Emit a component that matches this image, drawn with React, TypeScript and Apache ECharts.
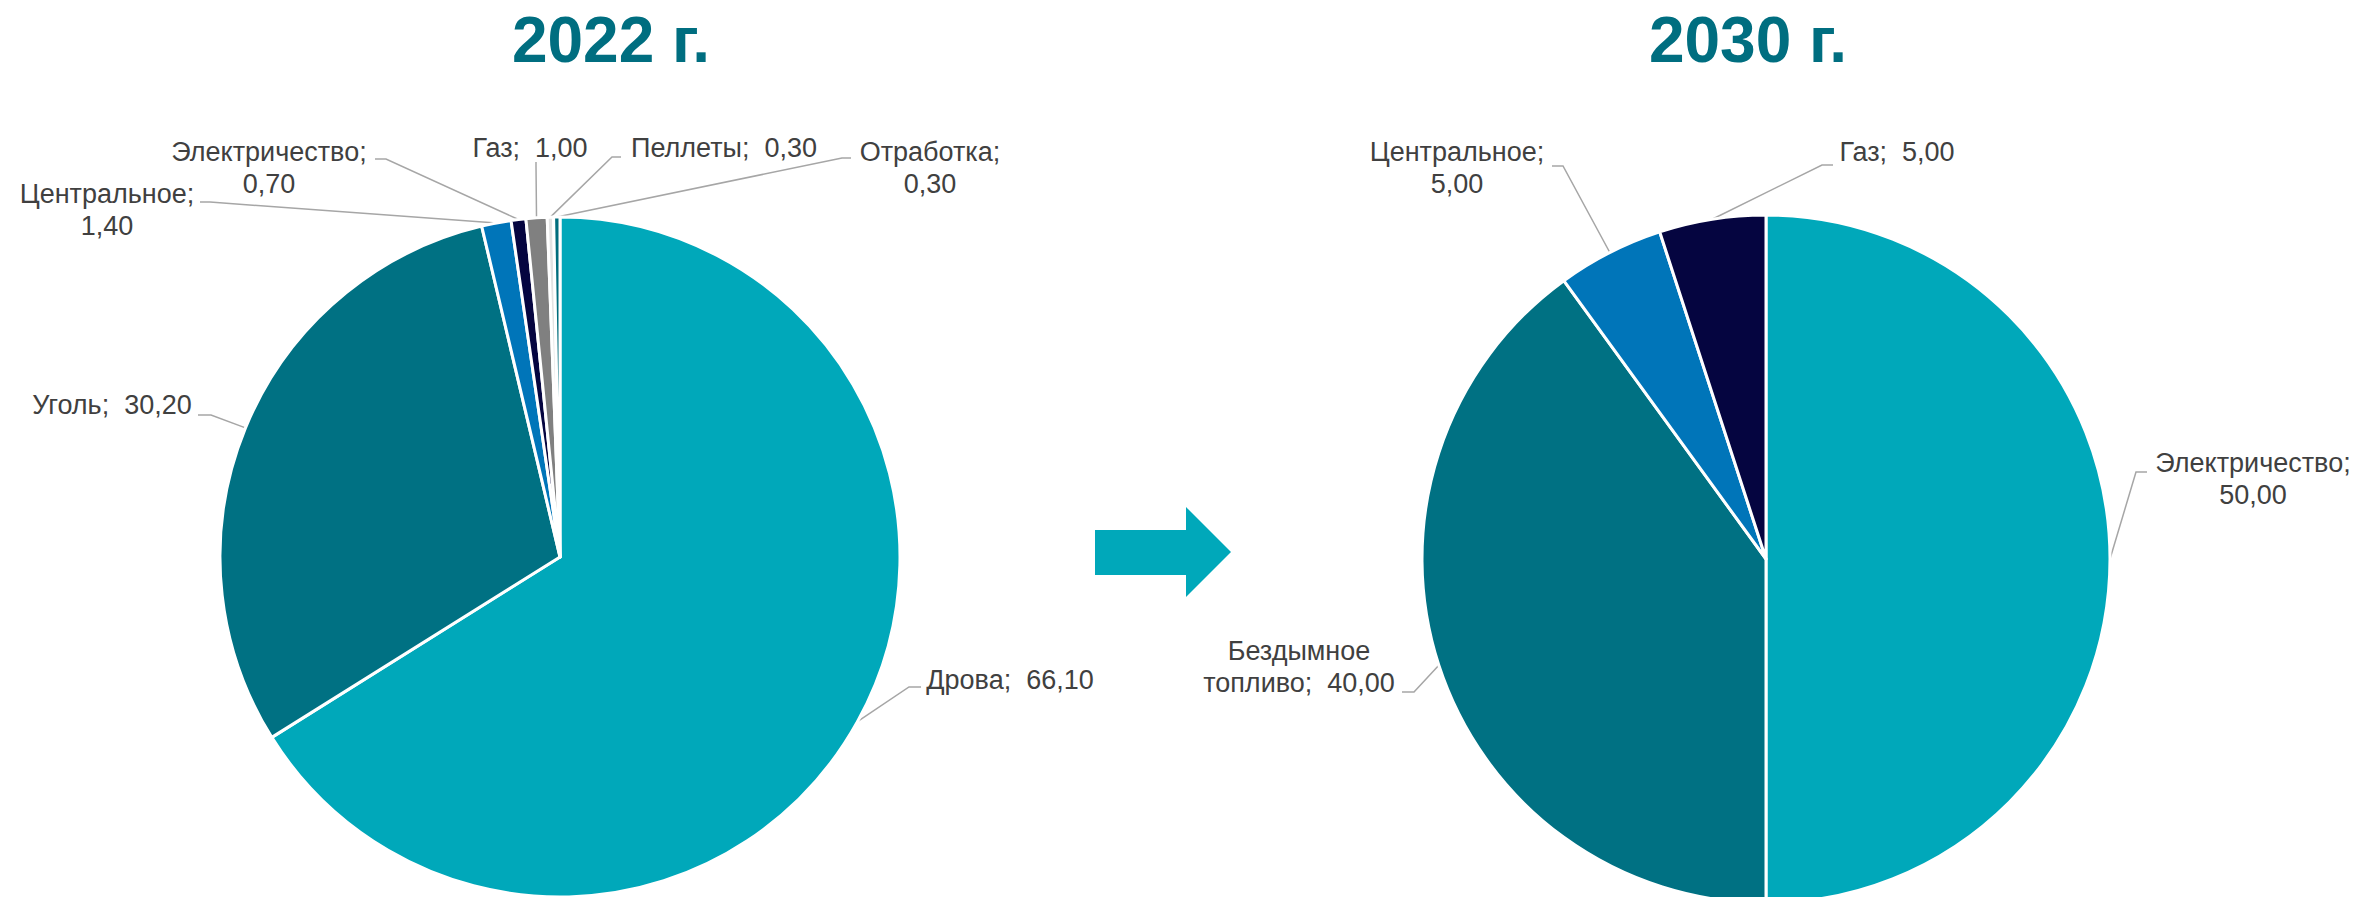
import React, { useEffect, useRef } from "react";
import * as echarts from "echarts";

// ---- data ----
const names2022 = ["Дрова", "Уголь", "Центральное", "Электричество", "Газ", "Пеллеты", "Отработка"];
const values2022 = [66.1, 30.2, 1.4, 0.7, 1.0, 0.3, 0.3];
const names2030 = ["Электричество", "Бездымное топливо", "Центральное", "Газ"];
const values2030 = [50, 40, 5, 5];
const titles = ["2022 г.", "2030 г."];

// ---- styles / layout ----
const colors2022 = ["#00A8BA", "#007183", "#0075B9", "#050540", "#808080", "#E3E3E3", "#006D7D"];
const colors2030 = ["#00A8BA", "#007183", "#0075B9", "#050540"];
// label wrap modes: 0 single line, 1 value on 2nd line, 2 name split on 2 lines
const wrap2022 = [0, 0, 1, 1, 0, 0, 1];
const wrap2030 = [1, 2, 1, 0];
const labelPos2022 = [[1010, 680], [112, 405], [107, 210], [269, 168], [530, 148], [724, 148], [930, 168]];
const labelPos2030 = [[2253, 479], [1299, 667], [1457, 168], [1897, 152]];
const stub2022 = [
  [[909, 687], [921, 687]],
  [[211, 415], [198, 415]],
  [[210, 202], [200, 202]],
  [[386, 159], [375, 159]],
  [[536, 166], [536, 162]],
  [[612, 157], [621, 157]],
  [[842, 158], [851, 158]],
];
const stub2030 = [
  [[2136, 472], [2147, 472]],
  [[1414, 692], [1402, 692]],
  [[1563, 166], [1552, 166]],
  [[1822, 165], [1833, 165]],
];

const fmt = (v: number) => v.toFixed(2).replace(".", ",");
const labelText = (name: string, v: number, mode: number) => {
  if (mode === 1) return `${name};\n${fmt(v)}`;
  if (mode === 2) return `${name.replace(" ", "\n")};  ${fmt(v)}`;
  return `${name};  ${fmt(v)}`;
};

function makeSeries(
  names: string[], values: number[], colors: string[], wraps: number[],
  pos: number[][], stubs: number[][][], center: number[], radius: number
) {
  return {
    type: "pie",
    center,
    radius,
    startAngle: 90,
    clockwise: true,
    avoidLabelOverlap: false,
    itemStyle: { borderColor: "#ffffff", borderWidth: 3 },
    label: {
      show: true,
      position: "outside",
      color: "#404040",
      fontFamily: "Liberation Sans, Arial, sans-serif",
      fontSize: 27,
      lineHeight: 32,
      align: "center",
      formatter: (p: any) => labelText(p.name, p.value, wraps[p.dataIndex]),
    },
    labelLine: { show: true, lineStyle: { color: "#A6A6A6", width: 1.5 } },
    emphasis: { disabled: true },
    labelLayout: (params: any) => {
      const i = params.dataIndex;
      const pts = params.labelLinePoints;
      const start = pts && pts[0] ? pts[0] : center;
      return {
        x: pos[i][0],
        y: pos[i][1],
        align: "center",
        verticalAlign: "middle",
        labelLinePoints: [start, stubs[i][0], stubs[i][1]],
      };
    },
    data: names.map((n, i) => ({ name: n, value: values[i], itemStyle: { color: colors[i] } })),
  };
}

export default function App() {
  const ref = useRef<HTMLDivElement>(null);
  useEffect(() => {
    const chart = echarts.init(ref.current!, undefined, { renderer: "svg" });
    chart.setOption({
      animation: false,
      backgroundColor: "#ffffff",
      graphic: [
        {
          type: "text", x: 611, y: 40,
          style: {
            text: titles[0], fill: "#006E80", fontSize: 64, fontWeight: "bold",
            fontFamily: "Liberation Sans, Arial, sans-serif", textAlign: "center", textVerticalAlign: "middle",
          },
        },
        {
          type: "text", x: 1748, y: 40,
          style: {
            text: titles[1], fill: "#006E80", fontSize: 64, fontWeight: "bold",
            fontFamily: "Liberation Sans, Arial, sans-serif", textAlign: "center", textVerticalAlign: "middle",
          },
        },
        {
          type: "polygon",
          shape: { points: [[1095, 530], [1186, 530], [1186, 507], [1231, 552], [1186, 597], [1186, 575], [1095, 575]] },
          style: { fill: "#00A8BA" },
        },
      ],
      series: [
        makeSeries(names2022, values2022, colors2022, wrap2022, labelPos2022, stub2022, [560, 557], 340),
        makeSeries(names2030, values2030, colors2030, wrap2030, labelPos2030, stub2030, [1766, 559], 344),
      ],
    });
    return () => chart.dispose();
  }, []);
  return <div ref={ref} style={{ position: "fixed", left: 0, top: 0, width: 2361, height: 897 }} />;
}
